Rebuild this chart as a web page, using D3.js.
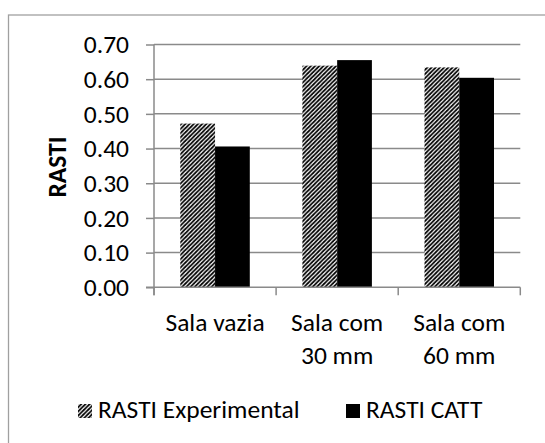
<!DOCTYPE html>
<html>
<head>
<meta charset="utf-8">
<script src="https://cdn.jsdelivr.net/npm/d3@7"></script>
<style>
  html, body { margin: 0; padding: 0; background: #fff; }
  svg { display: block; }
  text { font-family: Carlito, Lato, "Open Sans", sans-serif; fill: #000; }
</style>
</head>
<body>
<svg id="chart" width="545" height="443"></svg>
<script>
// RASTI per room condition: measured vs. CATT simulation
const categories = [["Sala vazia"], ["Sala com", "30 mm"], ["Sala com", "60 mm"]];
const seriesNames = ["RASTI Experimental", "RASTI CATT"];
const experimental = [0.472, 0.639, 0.634];
const catt = [0.406, 0.655, 0.604];
const yTicks = [0, 0.1, 0.2, 0.3, 0.4, 0.5, 0.6, 0.7];

const svg = d3.select("#chart");
const W = 545, H = 443;
const plot = { left: 154, right: 520.3, top: 44.5, bottom: 287.3 };
const gridColor = "#8a8a8a";
const fontSize = "25.5px";

// hatch fill for the experimental series
const defs = svg.append("defs");
const pat = defs.append("pattern")
  .attr("id", "hatch")
  .attr("patternUnits", "userSpaceOnUse")
  .attr("width", 4.2).attr("height", 4.2);
pat.append("rect").attr("width", 4.2).attr("height", 4.2).attr("fill", "#fff");
pat.append("path")
  .attr("d", "M-1.05,1.05 L1.05,-1.05 M0,4.2 L4.2,0 M3.15,5.25 L5.25,3.15")
  .attr("stroke", "#000").attr("stroke-width", 1.7);

// chart area border
svg.append("rect")
  .attr("x", 8.5).attr("y", 15)
  .attr("width", W).attr("height", H)
  .attr("fill", "none").attr("stroke", "#a0a0a0").attr("stroke-width", 1.3);

const keys = categories.map(c => c.join(" "));
const x = d3.scaleBand().domain(keys).range([plot.left, plot.right]).paddingInner(0).paddingOuter(0);
const xs = d3.scaleBand().domain(seriesNames).range([0, x.bandwidth()]).paddingInner(0).paddingOuter(0.757);
const y = d3.scaleLinear().domain([0, 0.7]).range([plot.bottom, plot.top]);

// horizontal gridlines
svg.append("g").selectAll("line")
  .data(yTicks.filter(t => t > 0))
  .join("line")
  .attr("x1", plot.left).attr("x2", plot.right)
  .attr("y1", d => y(d)).attr("y2", d => y(d))
  .attr("stroke", gridColor).attr("stroke-width", 1.5);

// bars
const rows = keys.map((k, i) => ({ key: k, values: [experimental[i], catt[i]] }));
const groups = svg.append("g").selectAll("g")
  .data(rows).join("g")
  .attr("transform", d => `translate(${x(d.key)},0)`);
groups.selectAll("rect")
  .data(d => d.values.map((v, j) => ({ s: seriesNames[j], v })))
  .join("rect")
  .attr("x", d => xs(d.s))
  .attr("width", xs.bandwidth())
  .attr("y", d => y(d.v))
  .attr("height", d => y(0) - y(d.v))
  .attr("fill", d => d.s === seriesNames[0] ? "url(#hatch)" : "#000");

// y axis
const yAxis = svg.append("g")
  .attr("transform", `translate(${plot.left},0)`)
  .call(d3.axisLeft(y).tickValues(yTicks).tickFormat(d3.format(".2f")).tickSize(8).tickPadding(17));
yAxis.select(".domain").remove();
yAxis.selectAll(".tick line").attr("stroke", gridColor).attr("stroke-width", 1.5);
yAxis.selectAll(".tick text").style("font-size", fontSize).attr("fill", "#000");
svg.append("line")
  .attr("x1", plot.left).attr("x2", plot.left)
  .attr("y1", plot.top).attr("y2", plot.bottom + 8)
  .attr("stroke", gridColor).attr("stroke-width", 1.5);

// x axis baseline with category boundary ticks
svg.append("line")
  .attr("x1", plot.left - 8).attr("x2", plot.right)
  .attr("y1", plot.bottom).attr("y2", plot.bottom)
  .attr("stroke", gridColor).attr("stroke-width", 1.5);
const bounds = keys.map(k => x(k)).concat([plot.right]);
svg.append("g").selectAll("line")
  .data(bounds).join("line")
  .attr("x1", d => d).attr("x2", d => d)
  .attr("y1", plot.bottom).attr("y2", plot.bottom + 8)
  .attr("stroke", gridColor).attr("stroke-width", 1.5);

// category labels (two lines where needed)
const catLabels = svg.append("g").selectAll("text")
  .data(categories).join("text")
  .attr("text-anchor", "middle")
  .style("font-size", fontSize)
  .attr("transform", (d, i) => `translate(${x(keys[i]) + x.bandwidth() / 2},331)`);
catLabels.selectAll("tspan")
  .data(d => d).join("tspan")
  .attr("x", 0)
  .attr("y", (d, i) => i * 33)
  .text(d => d);

// y axis title
svg.append("text")
  .attr("transform", "translate(66,167) rotate(-90)")
  .attr("text-anchor", "middle")
  .style("font-size", fontSize).style("font-weight", "bold")
  .text("RASTI");

// legend
const legend = [
  { name: seriesNames[0], fill: "url(#hatch)", x: 78 },
  { name: seriesNames[1], fill: "#000", x: 346 }
];
const lg = svg.append("g").selectAll("g").data(legend).join("g")
  .attr("transform", d => `translate(${d.x},0)`);
lg.append("rect").attr("x", 0).attr("y", 404).attr("width", 14).attr("height", 14)
  .attr("fill", d => d.fill);
lg.append("text").attr("x", 20).attr("y", 418)
  .style("font-size", fontSize).text(d => d.name);
</script>
</body>
</html>
